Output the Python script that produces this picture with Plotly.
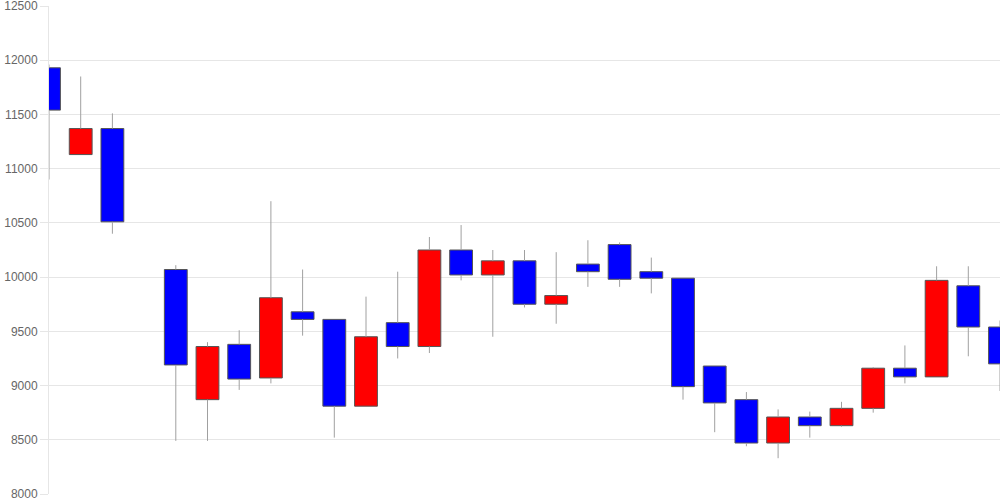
import plotly.graph_objects as go

# Day index (index 3 has no data)
days = [0, 1, 2, 4, 5, 6, 7, 8, 9, 10, 11, 12, 13, 14, 15, 16, 17, 18, 19, 20,
        21, 22, 23, 24, 25, 26, 27, 28, 29, 30]
opens = [11930, 11130, 11370, 10070, 8870, 9380, 9070, 9680, 9610, 8810,
         9580, 9360, 10250, 10020, 10150, 9750, 10120, 10300, 10050, 9990,
         9180, 8870, 8470, 8710, 8630, 8790, 9160, 9080, 9920, 9540]
highs = [11960, 11850, 11510, 10110, 9400, 9510, 10700, 10070, 9610, 9820,
         10050, 10370, 10480, 10250, 10250, 10230, 10340, 10320, 10180, 9990,
         9180, 8940, 8780, 8760, 8850, 9170, 9370, 10100, 10100, 9600]
lows = [10900, 11130, 10400, 8490, 8490, 8960, 9020, 9460, 8520, 8810,
        9250, 9300, 9970, 9450, 9720, 9570, 9910, 9910, 9850, 8870,
        8570, 8440, 8330, 8520, 8620, 8750, 9020, 9080, 9270, 8950]
closes = [11540, 11370, 10510, 9190, 9360, 9060, 9810, 9610, 8810, 9450,
          9360, 10250, 10020, 10150, 9750, 9830, 10050, 9980, 9990, 8990,
          8840, 8470, 8710, 8630, 8790, 9160, 9080, 9970, 9540, 9200]
y_ticks = [8000, 8500, 9000, 9500, 10000, 10500, 11000, 11500, 12000, 12500]

body_hi = [max(o, c) for o, c in zip(opens, closes)]
body_lo = [min(o, c) for o, c in zip(opens, closes)]
colors = ["#ff0000" if c > o else "#0000ff" for o, c in zip(opens, closes)]

# wick segments: high -> top of body, bottom of body -> low
wx, wy = [], []
for d, h, bh, bl, l in zip(days, highs, body_hi, body_lo, lows):
    wx += [d, d, None, d, d, None]
    wy += [h, bh, None, bl, l, None]

fig = go.Figure()
fig.add_trace(go.Scatter(
    x=wx, y=wy, mode="lines", line=dict(color="#a0a0a0", width=1),
    hoverinfo="skip", showlegend=False,
))
fig.add_trace(go.Bar(
    x=days, y=[h - l for h, l in zip(body_hi, body_lo)], base=body_lo,
    width=0.72, marker=dict(color=colors, line=dict(color="#555555", width=1)),
    showlegend=False,
))

fig.update_layout(
    width=1000, height=500,
    margin=dict(l=49, r=0, t=6, b=6, autoexpand=False),
    paper_bgcolor="white", plot_bgcolor="white",
    font=dict(family="Liberation Sans, Arial, sans-serif", size=12, color="#666666"),
    showlegend=False,
    xaxis=dict(range=[0, 30], showticklabels=False, showgrid=False, zeroline=False,
               showline=False, ticks="", automargin=False),
    yaxis=dict(range=[8000, 12500], tickvals=y_ticks, ticktext=[str(v) for v in y_ticks],
               showgrid=True, gridcolor="#e6e6e6", gridwidth=1, zeroline=False,
               showline=True, linecolor="#e6e6e6", linewidth=1,
               ticks="outside", ticklen=8, tickcolor="#e6e6e6", automargin=False,
               ticklabeloverflow="allow"),
)

fig.write_html("out.html", config={"displayModeBar": False},
               post_script="document.body.style.margin='0';")
